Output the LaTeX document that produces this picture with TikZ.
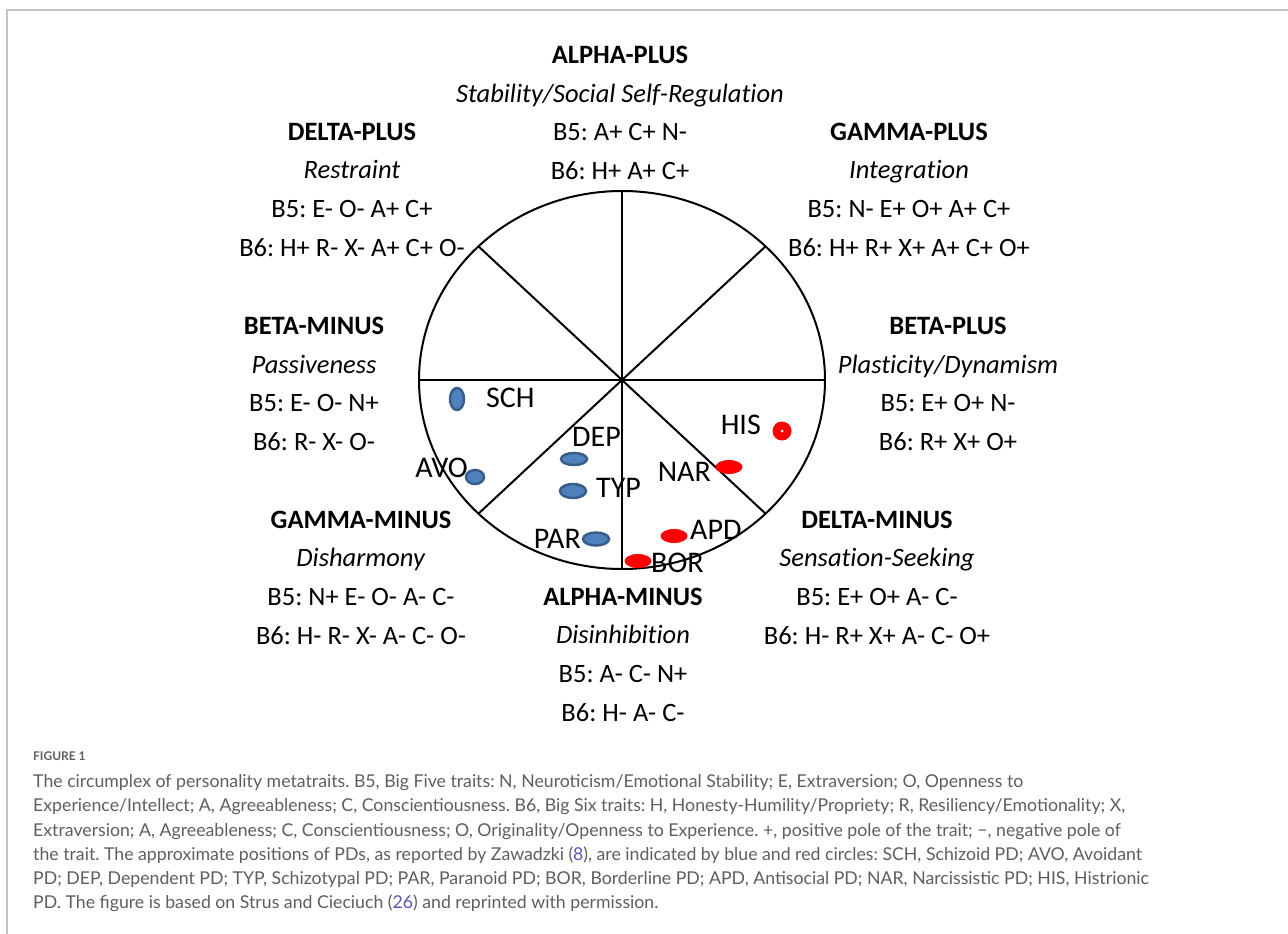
\documentclass[tikz,border=0pt]{standalone}
\usepackage{fontspec}
\setmainfont{Carlito}[Ligatures=NoCommon]
\newfontfamily\capfont{Lato}
\usetikzlibrary{shapes.geometric}
\definecolor{pdblue}{HTML}{4F81BD}
\definecolor{pdedge}{HTML}{385D8A}
\definecolor{pdred}{HTML}{FF0000}
\definecolor{framegray}{HTML}{C4C4C4}
\definecolor{capgray}{HTML}{5E5E5E}
\definecolor{reflink}{HTML}{5656B8}
\frenchspacing

\begin{document}
\begin{tikzpicture}[x=1pt,y=-1pt]
    \tikzstyle{sector}=[align=center,inner sep=0,font=\fontsize{26.5}{38.7}\selectfont]
    \tikzstyle{pd label}=[inner sep=0,font=\fontsize{30}{32}\selectfont]
    \tikzstyle{blue dot}=[ellipse,draw=pdedge,fill=pdblue,line width=2.5,inner sep=0,outer sep=0]
    \tikzstyle{red dot}=[ellipse,fill=pdred,inner sep=0,outer sep=0]
    \tikzstyle{spoke}=[line width=2]

    \useasboundingbox (0,0) rectangle (1288,934);
    % panel frame
    \draw[framegray, line width=2] (7,934) -- (7,10) -- (1288,10);

    % the circumplex
    \node[ellipse,draw,spoke,minimum width=406,minimum height=378,inner sep=0,outer sep=0] (wheel) at (622,380) {};
    \draw[spoke] (wheel.north) -- (wheel.south);
    \draw[spoke] (wheel.west) -- (wheel.east);
    \draw[spoke] (wheel.north west) -- (wheel.south east);
    \draw[spoke] (wheel.north east) -- (wheel.south west);

    % metatraits
    \node[sector] (alphaplus) at (620,113) {\textbf{ALPHA-PLUS}\\ \textit{Stability/Social Self-Regulation}\\ B5: A+ C+ N-\\ B6: H+ A+ C+};
    \node[sector] (deltaplus) at (352,189.5) {\textbf{DELTA-PLUS}\\ \textit{Restraint}\\ B5: E- O- A+ C+\\ B6: H+ R- X- A+ C+ O-};
    \node[sector] (gammaplus) at (909,189.5) {\textbf{GAMMA-PLUS}\\ \textit{Integration}\\ B5: N- E+ O+ A+ C+\\ B6: H+ R+ X+ A+ C+ O+};
    \node[sector] (betaminus) at (314,384) {\textbf{BETA-MINUS}\\ \textit{Passiveness}\\ B5: E- O- N+\\ B6: R- X- O-};
    \node[sector] (betaplus) at (948,384) {\textbf{BETA-PLUS}\\ \textit{Plasticity/Dynamism}\\ B5: E+ O+ N-\\ B6: R+ X+ O+};
    \node[sector] (gammaminus) at (361,577.5) {\textbf{GAMMA-MINUS}\\ \textit{Disharmony}\\ B5: N+ E- O- A- C-\\ B6: H- R- X- A- C- O-};
    \node[sector] (deltaminus) at (877,577.5) {\textbf{DELTA-MINUS}\\ \textit{Sensation-Seeking}\\ B5: E+ O+ A- C-\\ B6: H- R+ X+ A- C- O+};
    \node[sector] (alphaminus) at (623,654.5) {\textbf{ALPHA-MINUS}\\ \textit{Disinhibition}\\ B5: A- C- N+\\ B6: H- A- C-};

    % personality disorders
    \node[blue dot,minimum width=14,minimum height=22] (sch) at (457,399) {};
    \node[blue dot,minimum width=18,minimum height=14] (avo) at (475,477) {};
    \node[blue dot,minimum width=26,minimum height=12] (dep) at (574,459) {};
    \node[blue dot,minimum width=26,minimum height=14] (typ) at (573,491) {};
    \node[blue dot,minimum width=26,minimum height=13] (par) at (596,539) {};
    \node[red dot,minimum width=27,minimum height=14] (nar) at (729,467) {};
    \node[red dot,minimum width=27,minimum height=14] (apd) at (674,536) {};
    \node[red dot,minimum width=27,minimum height=14] (bor) at (638,561) {};
    \node[circle,fill=pdred,minimum size=19,inner sep=0] (his) at (782,431) {};
    \fill[white] (his) circle (1.5);

    \node[pd label,anchor=west] (schlabel) at (486,398) {SCH};
    \node[pd label,anchor=east] (avolabel) at (468,468) {AVO};
    \node[pd label,anchor=west] (deplabel) at (572,437) {DEP};
    \node[pd label,anchor=west] (typlabel) at (596,488) {TYP};
    \node[pd label,anchor=east] (parlabel) at (581,539) {PAR};
    \node[pd label,anchor=east] (narlabel) at (711,472) {NAR};
    \node[pd label,anchor=west] (apdlabel) at (690,530) {APD};
    \node[pd label,anchor=west] (borlabel) at (651,563) {BOR};
    \node[pd label,anchor=east] (hislabel) at (761,425) {HIS};

    % caption
    \node[anchor=base west,inner sep=0,text=capgray,font=\capfont\bfseries\fontsize{12}{14}\selectfont] (figno) at (33,760) {FIGURE 1};
    \node[anchor=north west,inner sep=0,align=left,text=capgray,font=\capfont\fontsize{17.7}{24.2}\selectfont] (caption) at (33,774.5) {The circumplex of personality metatraits. B5, Big Five traits: N, Neuroticism/Emotional Stability; E, Extraversion; O, Openness to\\
        Experience/Intellect; A, Agreeableness; C, Conscientiousness. B6, Big Six traits: H, Honesty-Humility/Propriety; R, Resiliency/Emotionality; X,\\
        Extraversion; A, Agreeableness; C, Conscientiousness; O, Originality/Openness to Experience. +, positive pole of the trait; −, negative pole of\\
        the trait. The approximate positions of PDs, as reported by Zawadzki ({\color{reflink}8}), are indicated by blue and red circles: SCH, Schizoid PD; AVO, Avoidant\\
        PD; DEP, Dependent PD; TYP, Schizotypal PD; PAR, Paranoid PD; BOR, Borderline PD; APD, Antisocial PD; NAR, Narcissistic PD; HIS, Histrionic\\
        PD. The figure is based on Strus and Cieciuch ({\color{reflink}26}) and reprinted with permission.};
\end{tikzpicture}
\end{document}
